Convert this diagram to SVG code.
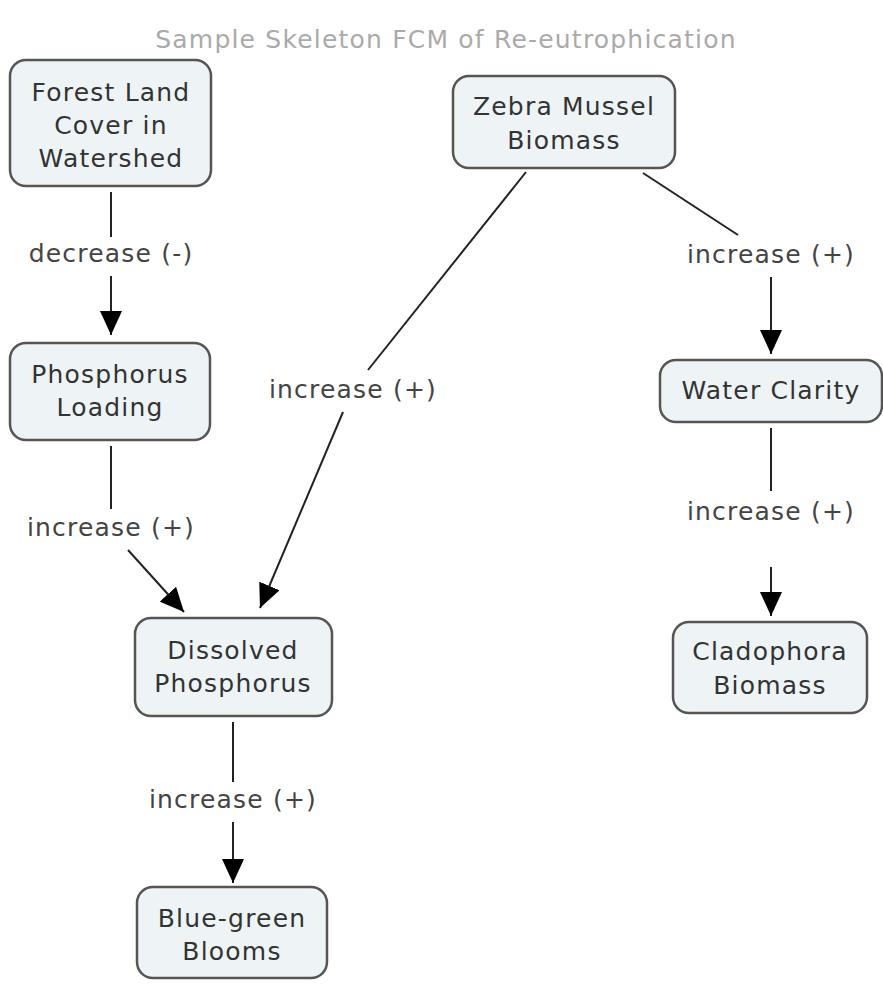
<svg xmlns="http://www.w3.org/2000/svg" width="883" height="984" viewBox="0 0 883 984">
<defs>
<style>
.node rect{fill:#eef3f6;stroke:#555;stroke-width:2.5}
.node text{font-family:"DejaVu Sans",Verdana,sans-serif;font-size:25px;letter-spacing:1.2px;fill:#333;text-anchor:middle}
.lbl{font-family:"DejaVu Sans",Verdana,sans-serif;font-size:25px;letter-spacing:1.2px;fill:#444;text-anchor:middle}
.title{font-family:"DejaVu Sans",Verdana,sans-serif;font-size:25px;letter-spacing:1.2px;fill:#aaa;text-anchor:middle}
#connectors line{stroke:#222;stroke-width:2}
</style>
<marker id="arr" viewBox="0 0 24 22" refX="24" refY="11" markerWidth="24" markerHeight="22" markerUnits="userSpaceOnUse" orient="auto">
<path d="M0,0 L24,11 L0,22 Z" fill="#000"/>
</marker>
</defs>
<rect width="883" height="984" fill="#fff"/>
<text class="title" x="446" y="48">Sample Skeleton FCM of Re-eutrophication</text>
<g id="connectors">
<line x1="111" y1="192" x2="111" y2="237"/>
<text class="lbl" x="111" y="262">decrease (-)</text>
<line x1="111" y1="276" x2="111" y2="335" marker-end="url(#arr)"/>
<line x1="111" y1="446" x2="111" y2="509"/>
<text class="lbl" x="111" y="536">increase (+)</text>
<line x1="128" y1="550" x2="184" y2="612" marker-end="url(#arr)"/>
<line x1="526" y1="172" x2="368" y2="370"/>
<text class="lbl" x="353" y="398">increase (+)</text>
<line x1="343" y1="412" x2="260" y2="608" marker-end="url(#arr)"/>
<line x1="643" y1="173" x2="738" y2="235"/>
<text class="lbl" x="771" y="263">increase (+)</text>
<line x1="771" y1="277" x2="771" y2="354" marker-end="url(#arr)"/>
<line x1="771" y1="428" x2="771" y2="491"/>
<text class="lbl" x="771" y="520">increase (+)</text>
<line x1="771" y1="567" x2="771" y2="616" marker-end="url(#arr)"/>
<line x1="233" y1="722" x2="233" y2="782"/>
<text class="lbl" x="233" y="808">increase (+)</text>
<line x1="233" y1="822" x2="233" y2="883" marker-end="url(#arr)"/>
</g>
<g id="forest" class="node"><rect x="10" y="60" width="201" height="126" rx="16"/><text x="111" y="101">Forest Land</text><text x="111" y="134">Cover in</text><text x="111" y="167">Watershed</text></g>
<g id="zebra" class="node"><rect x="453" y="76" width="222" height="92" rx="16"/><text x="564" y="115">Zebra Mussel</text><text x="564" y="149">Biomass</text></g>
<g id="ploading" class="node"><rect x="10" y="343" width="200" height="97" rx="16"/><text x="110" y="383">Phosphorus</text><text x="110" y="416">Loading</text></g>
<g id="clarity" class="node"><rect x="660" y="360" width="222" height="62" rx="16"/><text x="771" y="399">Water Clarity</text></g>
<g id="dissolved" class="node"><rect x="135" y="618" width="197" height="98" rx="16"/><text x="233" y="659">Dissolved</text><text x="233" y="692">Phosphorus</text></g>
<g id="cladophora" class="node"><rect x="673" y="622" width="194" height="91" rx="16"/><text x="770" y="660">Cladophora</text><text x="770" y="694">Biomass</text></g>
<g id="bluegreen" class="node"><rect x="137" y="887" width="190" height="91" rx="16"/><text x="232" y="927">Blue-green</text><text x="232" y="960">Blooms</text></g>
</svg>
